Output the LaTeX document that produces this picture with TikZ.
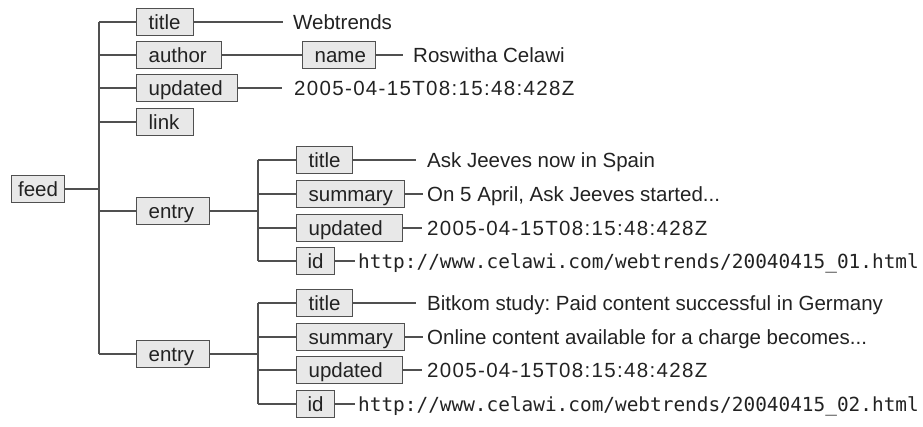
\documentclass[tikz,border=0pt]{standalone}
\usepackage{fontspec}
\setmainfont{Liberation Sans}
\newfontfamily\urlfont{DejaVu Sans Mono}
\definecolor{boxfill}{HTML}{E8E8E8}
\definecolor{edge}{HTML}{505050}
\definecolor{ink}{HTML}{222222}
\frenchspacing
% timestamps are set a little wider
\newcommand{\stamp}[1]{{\addfontfeature{LetterSpace=6.5}#1}}
\begin{document}
\begin{tikzpicture}[x=1pt,y=-1pt,
  every node/.style={font=\fontsize{20.5}{24}\selectfont, text=ink},
  tag/.style={draw=edge, fill=boxfill, line width=1.3pt, inner xsep=12pt, inner ysep=0pt,
    minimum height=27pt, text height=15pt, text depth=0pt, align=left, anchor=west,
    text width=#1},
  val/.style={inner sep=0pt, anchor=west, text height=15pt, text depth=0pt},
  url/.style={val, font=\urlfont\fontsize{19.4}{22}\selectfont},
  link/.style={draw=edge, line width=1.3pt}
]
\useasboundingbox (0,0) rectangle (923,427);

% root and first level
\node[tag=40pt, inner xsep=6.5pt] (feed) at (11,189) {feed};
\node[tag=33pt] (ttitle) at (136,22) {title};
\node[tag=61pt] (tauthor) at (136,55) {author};
\node[tag=77pt] (tupdated) at (136,88) {updated};
\node[tag=33pt] (tlink) at (136,122) {link};
\node[tag=49pt] (entryA) at (136,211) {entry};
\node[tag=49pt] (entryB) at (136,354) {entry};

\node[tag=49pt] (name) at (302,55) {name};

\node[val] (vtitle) at (293,22) {Webtrends};
\node[val] (vname) at (413,55) {Roswitha Celawi};
\node[val] (vupdated) at (294,88) {\stamp{2005-04-15T08:15:48:428Z}};

% children of the first entry
\node[tag=32pt] (atitle) at (296,160) {title};
\node[tag=84pt] (asummary) at (296,194) {summary};
\node[tag=82pt] (aupdated) at (296,228) {updated};
\node[tag=16pt, inner xsep=11pt] (aid) at (296,261) {id};
\node[val] (vatitle) at (427,160) {Ask Jeeves now in Spain};
\node[val] (vasummary) at (427,194) {On 5 April, Ask Jeeves started...};
\node[val] (vaupdated) at (427,228) {\stamp{2005-04-15T08:15:48:428Z}};
\node[url] (vaid) at (358,261) {http://www.celawi.com/webtrends/20040415\_01.html};

% children of the second entry
\node[tag=32pt] (btitle) at (296,303) {title};
\node[tag=84pt] (bsummary) at (296,337) {summary};
\node[tag=82pt] (bupdated) at (296,370) {updated};
\node[tag=16pt, inner xsep=11pt] (bid) at (296,404) {id};
\node[val] (vbtitle) at (427,303) {Bitkom study: Paid content successful in Germany};
\node[val] (vbsummary) at (427,337) {Online content available for a charge becomes...};
\node[val] (vbupdated) at (427,370) {\stamp{2005-04-15T08:15:48:428Z}};
\node[url] (vbid) at (358,404) {http://www.celawi.com/webtrends/20040415\_02.html};

% tree junctions
\coordinate (trunk) at (99,189);
\coordinate (jA) at (258,211);
\coordinate (jB) at (258,354);

\draw[link] (feed.east) -- (trunk);
\draw[link] (ttitle.west -| trunk) -- (entryB.west -| trunk);
\foreach \n in {ttitle,tauthor,tupdated,tlink,entryA,entryB}
  \draw[link] (\n.west) -- (\n.west -| trunk);

\draw[link] (entryA.east) -- (jA);
\draw[link] (atitle.west -| jA) -- (aid.west -| jA);
\foreach \n in {atitle,asummary,aupdated,aid}
  \draw[link] (\n.west) -- (\n.west -| jA);

\draw[link] (entryB.east) -- (jB);
\draw[link] (btitle.west -| jB) -- (bid.west -| jB);
\foreach \n in {btitle,bsummary,bupdated,bid}
  \draw[link] (\n.west) -- (\n.west -| jB);

% value connectors
\draw[link] (ttitle.east) -- ([xshift=-10pt]vtitle.west);
\draw[link] (tauthor.east) -- (name.west);
\draw[link] (name.east) -- ([xshift=-10pt]vname.west);
\draw[link] (tupdated.east) -- ([xshift=-12pt]vupdated.west);

\draw[link] (atitle.east) -- ([xshift=-11pt]vatitle.west);
\draw[link] (asummary.east) -- ([xshift=-4pt]vasummary.west);
\draw[link] (aupdated.east) -- ([xshift=-5pt]vaupdated.west);
\draw[link] (aid.east) -- ([xshift=-3pt]vaid.west);

\draw[link] (btitle.east) -- ([xshift=-11pt]vbtitle.west);
\draw[link] (bsummary.east) -- ([xshift=-4pt]vbsummary.west);
\draw[link] (bupdated.east) -- ([xshift=-5pt]vbupdated.west);
\draw[link] (bid.east) -- ([xshift=-3pt]vbid.west);
\end{tikzpicture}
\end{document}
